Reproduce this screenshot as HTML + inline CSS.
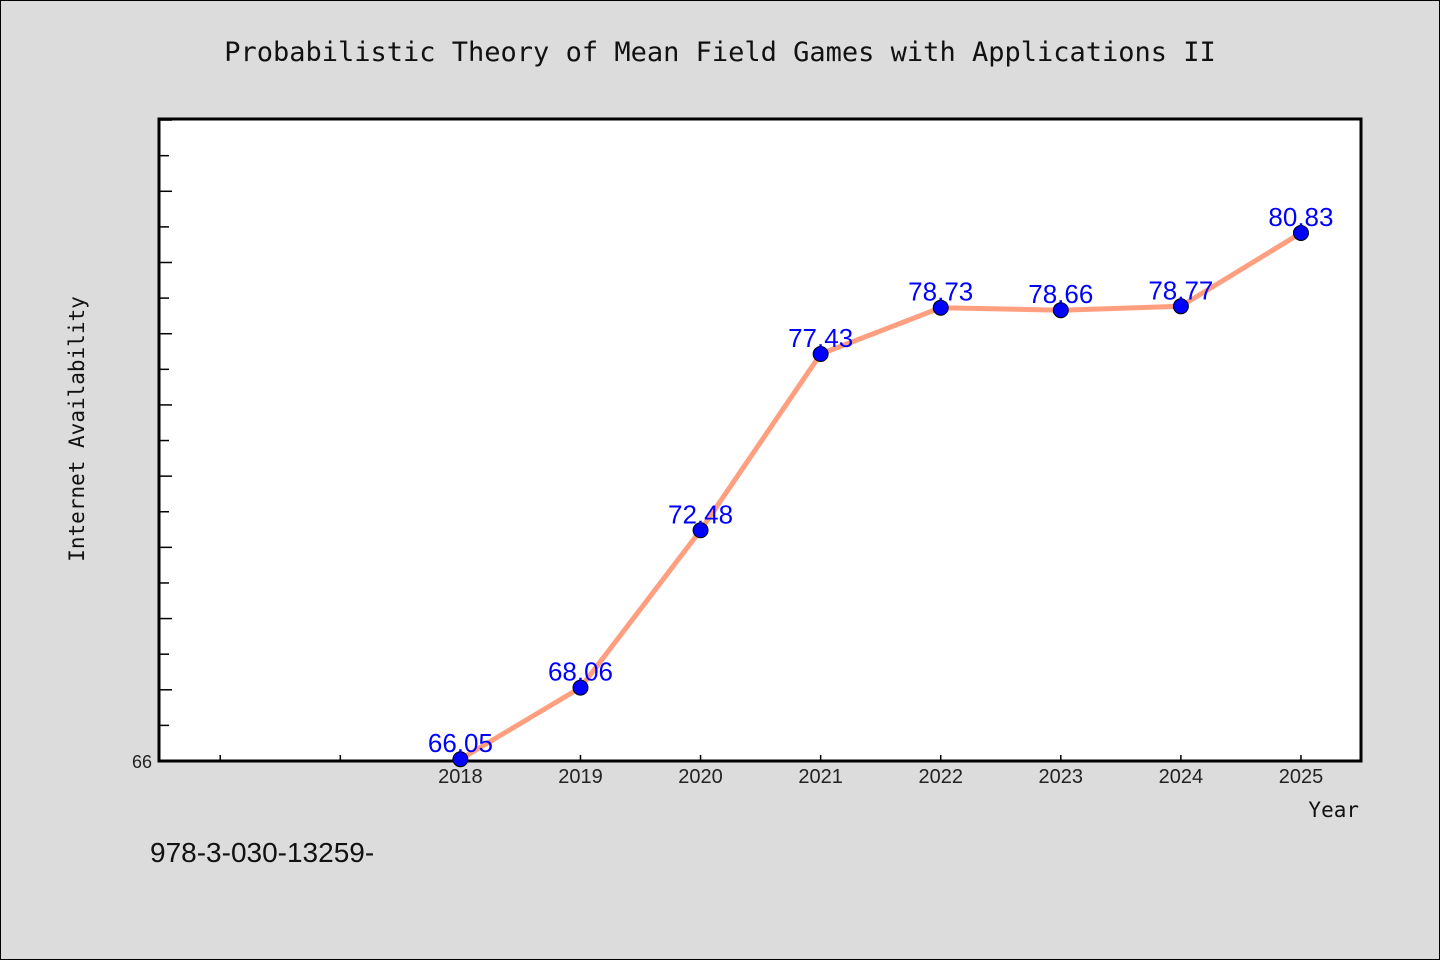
<!DOCTYPE html>
<html><head><meta charset="utf-8"><style>
body{margin:0;background:#dcdcdc;}
svg{display:block}
</style></head><body>
<svg width="1440" height="960" xmlns="http://www.w3.org/2000/svg">
<rect x="0.5" y="0.5" width="1439" height="959" fill="#dcdcdc" stroke="#000"/>
<text x="720" y="61" text-anchor="middle" font-family="DejaVu Sans Mono, monospace" font-size="27" fill="#111">Probabilistic Theory of Mean Field Games with Applications II</text>
<rect x="159" y="119" width="1202" height="642" fill="#fff" stroke="#000" stroke-width="3"/>
<g id="ticks"></g>
<path id="line" fill="none" stroke="#ff9f7f" stroke-width="5" stroke-linejoin="round"/>
<g id="pts"></g>
<text x="102" y="447" text-anchor="middle" transform="rotate(-90 84 447)" font-family="DejaVu Sans Mono, monospace" font-size="21" fill="#111">Internet Availability</text>
<text x="1359" y="817" text-anchor="end" font-family="DejaVu Sans Mono, monospace" font-size="21" fill="#111">Year</text>
<text x="150" y="862" font-family="Liberation Sans, sans-serif" font-size="28" fill="#111">978-3-030-13259-</text>
</svg>
<script>
const years=[2018,2019,2020,2021,2022,2023,2024,2025];
const values=[66.05,68.06,72.48,77.43,78.73,78.66,78.77,80.83];
const labels=["66.05","68.06","72.48","77.43","78.73","78.66","78.77","80.83"];
const xMin=2015.49,xMax=2025.5,yMin=66,yMax=84.03;
const X=v=>159+(v-xMin)/(xMax-xMin)*1202;
const Y=v=>761-(v-yMin)/(yMax-yMin)*642;
const NS="http://www.w3.org/2000/svg";
function mk(t,a,p){const e=document.createElementNS(NS,t);for(const k in a)e.setAttribute(k,a[k]);p.appendChild(e);return e;}
const tg=document.getElementById('ticks');
for(let v=67;v<=84;v++){
 const len=(v%2===0)?13:10;
 const t=mk('line',{x1:159,x2:159+len,y1:Y(v),y2:Y(v),stroke:'#000','stroke-width':1.5},tg);
 
 
}
const yl=mk('text',{x:152,y:Y(66)+7,'text-anchor':'end','font-family':'Liberation Sans, sans-serif','font-size':18,fill:'#222'},tg);
yl.textContent='66';


for(let yr=2016;yr<=2025;yr++){
 const t=mk('line',{x1:X(yr),x2:X(yr),y1:761,y2:755,stroke:'#000','stroke-width':1.5},tg);
 
 
}
years.forEach(yr=>{
 const t=mk('text',{x:X(yr),y:783,'text-anchor':'middle','font-family':'Liberation Sans, sans-serif','font-size':20,fill:'#222'},tg);
 t.textContent=yr;
 
 
});
document.getElementById('line').setAttribute('d',years.map((yr,i)=>(i?'L':'M')+X(yr)+' '+Y(values[i])).join(' '));
const pg=document.getElementById('pts');
years.forEach((yr,i)=>{
 const c=mk('circle',{cx:X(yr),cy:Y(values[i]),r:7.5,fill:'#0000ff',stroke:'#000','stroke-width':1},pg);
 
 
 const t=mk('text',{x:X(yr),y:Y(values[i])-7,'text-anchor':'middle','font-family':'Liberation Sans, sans-serif','font-size':26,fill:'#0000ff'},pg);
 t.textContent=labels[i];
 
 
});
</script>
</body></html>
